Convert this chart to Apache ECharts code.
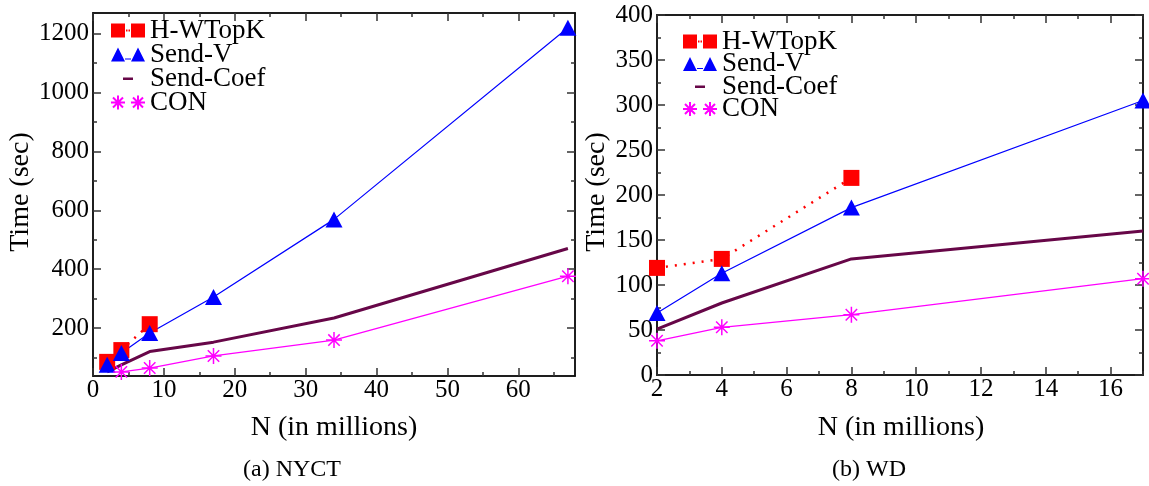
<!DOCTYPE html>
<html>
<head>
<meta charset="utf-8">
<script src="https://cdn.jsdelivr.net/npm/echarts@6.0.0/dist/echarts.min.js"></script>
<style>
  html, body { margin: 0; padding: 0; background: #fff; }
  #main { width: 1149px; height: 486px; }
</style>
</head>
<body>
<div id="main"></div>
<script>
var FONT = 'Liberation Serif';

// (a) NYCT
var nycN = [2, 4, 8, 17, 34, 67];
var nycHWTopK = [85, 125, 213];
var nycSendV = [75, 115, 183, 305, 569, 1220];
var nycSendCoef = [51, 75, 120, 152, 234, 470];
var nycConN = [4, 8, 17, 34, 67];
var nycCon = [51, 64, 105, 159, 376];

// (b) WD
var wdN = [2, 4, 8, 17];
var wdHWTopK = [119, 129, 219];
var wdSendV = [69, 113, 186, 305];
var wdSendCoef = [51, 80, 129, 160];
var wdCon = [38, 53, 67, 107];

// tick labels
var nycXLabels = [0, 10, 20, 30, 40, 50, 60];
var nycXMinor = [5, 15, 25, 35, 45, 55, 65];
var nycYLabels = [200, 400, 600, 800, 1000, 1200];
var nycYMinor = [100, 300, 500, 700, 900, 1100];
var wdXLabels = [2, 4, 6, 8, 10, 12, 14, 16];
var wdXMinor = [3, 5, 7, 9, 11, 13, 15, 17];
var wdYLabels = [0, 50, 100, 150, 200, 250, 300, 350, 400];
var wdYMinor = [25, 75, 125, 175, 225, 275, 325, 375];

function pairs(xs, ys) {
  return ys.map(function (y, i) { return [xs[i], y]; });
}

function axis(grid, pos, min, max, ticks, len, labels, margin) {
  return {
    type: 'value', gridIndex: grid, position: pos, min: min, max: max,
    axisLine: { show: true, onZero: false, lineStyle: { color: '#111', width: 1.5 } },
    axisTick: { show: true, inside: true, length: len, customValues: ticks,
                lineStyle: { color: '#333', width: 1.5 } },
    axisLabel: labels ? { show: true, customValues: labels, margin: margin,
                          formatter: function (v) { return String(v); },
                          fontFamily: FONT, fontSize: 25, color: '#000' } : { show: false },
    splitLine: { show: false }
  };
}

// every side of each box: major ticks + a second axis for the short minor ticks
function xAxes(grid, min, max, major, minor) {
  return [
    axis(grid, 'bottom', min, max, major, 8, major, 2),
    axis(grid, 'bottom', min, max, minor, 4),
    axis(grid, 'top', min, max, major, 8),
    axis(grid, 'top', min, max, minor, 4)
  ];
}
function yAxes(grid, min, max, major, minor) {
  return [
    axis(grid, 'left', min, max, major, 8, major, 4),
    axis(grid, 'right', min, max, major, 8),
    axis(grid, 'left', min, max, minor, 4),
    axis(grid, 'right', min, max, minor, 4)
  ];
}

var squaresIcon = 'path://M0,0h14v14h-14z M20,0h14v14h-14z M15,6h1.5v2h-1.5z M17.5,6h1.5v2h-1.5z';
var trianglesIcon = 'path://M0,14L7,0L14,14Z M20,14L27,0L34,14Z M14,11h6v1h-6z';
var dashIcon = 'path://M0,0L0,0Z M34,14L34,14Z M12,6h10v2.5h-10z';
var starsIcon = 'path://M7,0V14 M0,7H14 M2,2L12,12 M2,12L12,2 M27,0V14 M20,7H34 M22,2L32,12 M22,12L32,2';
var starSymbol = 'path://M7,0V14 M0,7H14 M2,2L12,12 M2,12L12,2';

function legendFor(left, top, gap) {
  return {
    orient: 'vertical', left: left, top: top, itemWidth: 34, itemHeight: 16,
    itemGap: gap, selectedMode: false, padding: 0,
    textStyle: { fontFamily: FONT, fontSize: 27, color: '#000' },
    data: [
      { name: 'H-WTopK', icon: squaresIcon },
      { name: 'Send-V', icon: trianglesIcon },
      { name: 'Send-Coef', icon: dashIcon },
      { name: 'CON', icon: starsIcon }
    ]
  };
}

function seriesFor(g, xs, hw, sv, sc, conX, con) {
  var ax = g * 4;
  return [
    { name: 'H-WTopK', type: 'line', xAxisIndex: ax, yAxisIndex: ax,
      data: pairs(xs, hw), symbol: 'rect', symbolSize: 16,
      itemStyle: { color: '#ff0000' },
      lineStyle: { color: '#ff0000', width: 2.5, type: [2, 7] } },
    { name: 'Send-V', type: 'line', xAxisIndex: ax, yAxisIndex: ax,
      data: pairs(xs, sv), symbol: 'triangle', symbolSize: [17, 16],
      itemStyle: { color: '#0000ff' },
      lineStyle: { color: '#0000ff', width: 1.2 } },
    { name: 'Send-Coef', type: 'line', xAxisIndex: ax, yAxisIndex: ax,
      data: pairs(xs, sc), showSymbol: false, symbol: 'none',
      itemStyle: { color: '#670748' },
      lineStyle: { color: '#670748', width: 3 } },
    { name: 'CON', type: 'line', xAxisIndex: ax, yAxisIndex: ax,
      data: pairs(conX, con), symbol: starSymbol, symbolSize: 16,
      itemStyle: { color: '#ff00ff', borderColor: '#ff00ff', borderWidth: 1.5 },
      lineStyle: { color: '#ff00ff', width: 1.3 } }
  ];
}

function label(text, x, y, size, rotate) {
  return {
    type: 'text', x: x, y: y, rotation: rotate ? Math.PI / 2 : 0,
    style: { text: text, font: size + 'px "' + FONT + '"', fill: '#000',
             textAlign: 'center', textVerticalAlign: 'middle' }
  };
}

var chart = echarts.init(document.getElementById('main'), null, { renderer: 'canvas' });

var option = {
  animation: false,
  backgroundColor: '#fff',
  grid: [
    { left: 93, top: 13, width: 482, height: 363 },
    { left: 657, top: 15, width: 486, height: 360 }
  ],
  xAxis: [].concat(
    xAxes(0, 0, 68, nycXLabels, nycXMinor),
    xAxes(1, 2, 17, wdXLabels, wdXMinor)
  ),
  yAxis: [].concat(
    yAxes(0, 37, 1270, nycYLabels, nycYMinor),
    yAxes(1, 0, 400, wdYLabels, wdYMinor)
  ),
  legend: [legendFor(110, 17, -3), legendFor(682, 28, -4.5)],
  series: [].concat(
    seriesFor(0, nycN, nycHWTopK, nycSendV, nycSendCoef, nycConN, nycCon),
    seriesFor(1, wdN, wdHWTopK, wdSendV, wdSendCoef, wdN, wdCon)
  ),
  graphic: [
    label('Time (sec)', 21, 192, 28, true),
    label('Time (sec)', 597, 192, 28, true),
    label('N (in millions)', 334, 428, 28),
    label('N (in millions)', 901, 428, 28),
    label('(a) NYCT', 292, 470, 24),
    label('(b) WD', 869, 470, 24)
  ]
};

chart.setOption(option);
</script>
</body>
</html>
